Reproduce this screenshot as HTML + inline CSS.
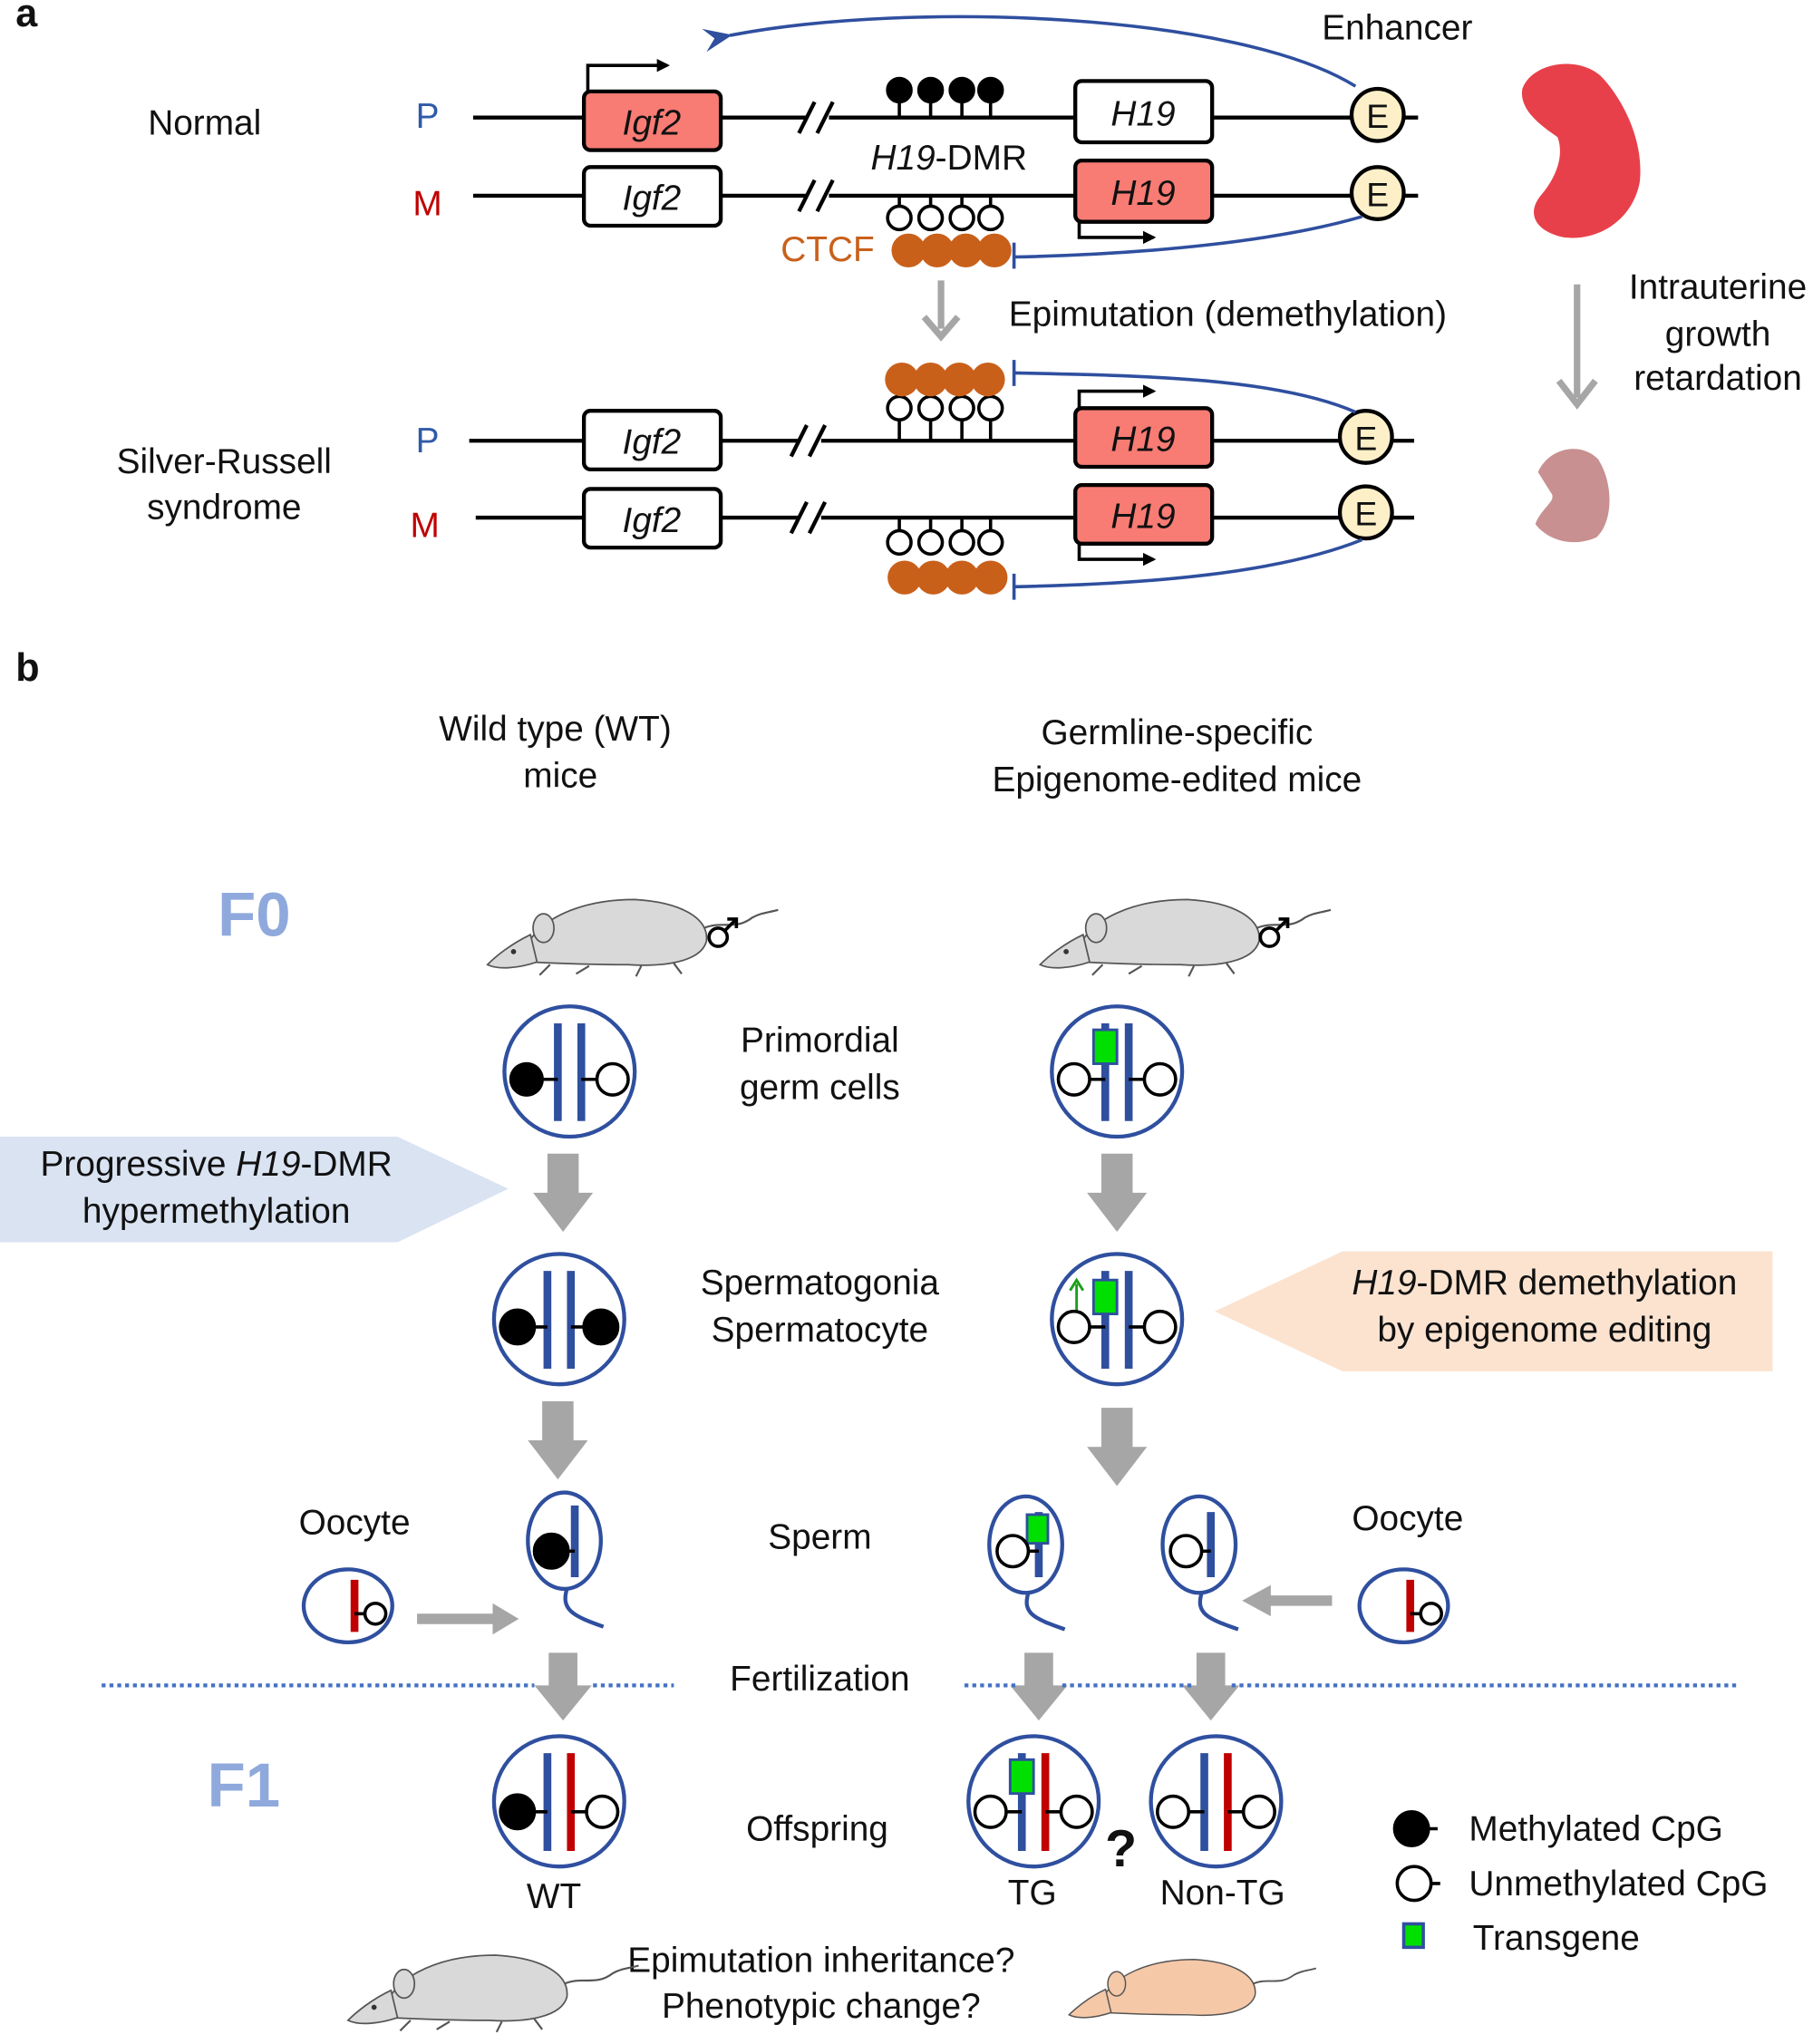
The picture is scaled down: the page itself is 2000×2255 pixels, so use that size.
<!DOCTYPE html>
<html><head><meta charset="utf-8"><style>
html,body{margin:0;padding:0;background:#fff}
svg{display:block}
text{font-family:"Liberation Sans",Arial,sans-serif;fill:#111}
</style></head><body>
<svg width="2000" height="2255" viewBox="0 0 1391 1568" xmlns="http://www.w3.org/2000/svg">
<defs>
<marker id="ab" markerWidth="10" markerHeight="10" refX="8" refY="5" orient="auto" markerUnits="userSpaceOnUse"><path d="M0,0 L10,5 L0,10 z" fill="#000"/></marker>
<marker id="abl" markerWidth="22" markerHeight="18" refX="2" refY="9" orient="auto" markerUnits="userSpaceOnUse"><path d="M22,0 L0,9 L22,18 L14,9 z" fill="#2f4f9f"/></marker>
<g id="mouse">
<path d="M-60,18 C-50,-8 -15,-22 25,-22 C60,-20 82,-8 80,10 C76,25 50,30 20,28 C-10,28 -35,27 -55,26 Z" fill="#d9d9d9" stroke="#555" stroke-width="1.2"/>
<path d="M-55,5 C-70,12 -82,22 -88,28 C-80,32 -65,31 -50,26 Z" fill="#d9d9d9" stroke="#555" stroke-width="1.2"/>
<ellipse cx="-45" cy="0" rx="8" ry="11" fill="#d9d9d9" stroke="#555" stroke-width="1.2"/>
<circle cx="-68" cy="18" r="2" fill="#333"/>
<path d="M78,0 C92,-6 102,2 115,-8 C122,-12 128,-12 135,-14" fill="none" stroke="#555" stroke-width="1.5"/>
<path d="M-40,28 l-8,8 M-10,29 l-10,6 M30,29 l-4,8 M55,27 l6,8" stroke="#555" stroke-width="1.5"/>
</g>
<g id="male" fill="none" stroke="#000" stroke-width="2.5">
<circle cx="-4" cy="4" r="7"/><path d="M1,-1 L10,-10 M3,-10 H10 V-3"/>
</g>
</defs>

<!-- Panel a -->
<text x="12" y="20" font-size="30" font-weight="bold">a</text>
<text x="1072" y="30" font-size="27" text-anchor="middle">Enhancer</text>
<path d="M1040,66 C950,10 700,0 560,27" fill="none" stroke="#2f4f9f" stroke-width="2.5" marker-end="url(#abl)"/>
<text x="157" y="103" font-size="27" text-anchor="middle">Normal</text>
<text x="328" y="98" font-size="27" text-anchor="middle" style="fill:#2f5aa8">P</text>
<text x="328" y="165" font-size="27" text-anchor="middle" style="fill:#c00000">M</text>

<g stroke="#000" stroke-width="3" fill="none">
<line x1="363" y1="90" x2="618" y2="90"/><line x1="636" y1="90" x2="1088" y2="90"/>
<line x1="363" y1="150" x2="618" y2="150"/><line x1="636" y1="150" x2="1088" y2="150"/>
<line x1="360" y1="338" x2="612" y2="338"/><line x1="630" y1="338" x2="1085" y2="338"/>
<line x1="365" y1="397" x2="612" y2="397"/><line x1="630" y1="397" x2="1085" y2="397"/>
<path d="M613,102 l12,-24 M627,102 l12,-24"/>
<path d="M613,162 l12,-24 M627,162 l12,-24"/>
<path d="M607,350 l12,-24 M621,350 l12,-24"/>
<path d="M607,409 l12,-24 M621,409 l12,-24"/>
</g>
<g stroke="#000" stroke-width="3">
<rect x="448" y="70" width="105" height="45" rx="5" fill="#f87c74"/>
<rect x="448" y="128" width="105" height="45" rx="5" fill="#fff"/>
<rect x="448" y="315" width="105" height="45" rx="5" fill="#fff"/>
<rect x="448" y="375" width="105" height="45" rx="5" fill="#fff"/>
<rect x="825" y="62" width="105" height="47" rx="5" fill="#fff"/>
<rect x="825" y="123" width="105" height="47" rx="5" fill="#f87c74"/>
<rect x="825" y="313" width="105" height="45" rx="5" fill="#f87c74"/>
<rect x="825" y="372" width="105" height="45" rx="5" fill="#f87c74"/>
</g>
<g font-size="27" font-style="italic" text-anchor="middle">
<text x="500" y="103">Igf2</text><text x="500" y="161">Igf2</text><text x="500" y="348">Igf2</text><text x="500" y="408">Igf2</text>
<text x="877" y="96">H19</text><text x="877" y="157">H19</text><text x="877" y="346">H19</text><text x="877" y="405">H19</text>
</g>
<g stroke="#000" stroke-width="2.5" fill="none">
<path d="M451,70 V50 H512" marker-end="url(#ab)"/>
<path d="M828,170 V182 H885" marker-end="url(#ab)"/>
<path d="M828,313 V300 H885" marker-end="url(#ab)"/>
<path d="M828,417 V429 H885" marker-end="url(#ab)"/>
</g>
<g stroke="#000" stroke-width="3" fill="#fdf0c8">
<circle cx="1057" cy="88" r="20"/><circle cx="1057" cy="148" r="20"/>
<circle cx="1048" cy="335" r="20"/><circle cx="1048" cy="393" r="20"/>
</g>
<g font-size="26" text-anchor="middle"><text x="1057" y="98">E</text><text x="1057" y="158">E</text><text x="1048" y="345">E</text><text x="1048" y="403">E</text></g>
<g stroke="#000" stroke-width="2.5">
<g fill="#000"><line x1="690" y1="70" x2="690" y2="90"/><line x1="714" y1="70" x2="714" y2="90"/><line x1="738" y1="70" x2="738" y2="90"/><line x1="760" y1="70" x2="760" y2="90"/>
<circle cx="690" cy="69" r="9"/><circle cx="714" cy="69" r="9"/><circle cx="738" cy="69" r="9"/><circle cx="760" cy="69" r="9"/></g>
<g fill="#fff">
<line x1="690" y1="150" x2="690" y2="166"/><line x1="714" y1="150" x2="714" y2="166"/><line x1="738" y1="150" x2="738" y2="166"/><line x1="760" y1="150" x2="760" y2="166"/>
<circle cx="690" cy="167" r="9"/><circle cx="714" cy="167" r="9"/><circle cx="738" cy="167" r="9"/><circle cx="760" cy="167" r="9"/>
<line x1="690" y1="318" x2="690" y2="338"/><line x1="714" y1="318" x2="714" y2="338"/><line x1="738" y1="318" x2="738" y2="338"/><line x1="760" y1="318" x2="760" y2="338"/>
<circle cx="690" cy="313" r="9"/><circle cx="714" cy="313" r="9"/><circle cx="738" cy="313" r="9"/><circle cx="760" cy="313" r="9"/>
<line x1="690" y1="397" x2="690" y2="413"/><line x1="714" y1="397" x2="714" y2="413"/><line x1="738" y1="397" x2="738" y2="413"/><line x1="760" y1="397" x2="760" y2="413"/>
<circle cx="690" cy="416" r="9"/><circle cx="714" cy="416" r="9"/><circle cx="738" cy="416" r="9"/><circle cx="760" cy="416" r="9"/>
</g></g>
<g fill="#c9601a">
<circle cx="697" cy="192" r="13"/><circle cx="719" cy="192" r="13"/><circle cx="741" cy="192" r="13"/><circle cx="763" cy="192" r="13"/>
<circle cx="692" cy="291" r="13"/><circle cx="714" cy="291" r="13"/><circle cx="736" cy="291" r="13"/><circle cx="758" cy="291" r="13"/>
<circle cx="694" cy="443" r="13"/><circle cx="716" cy="443" r="13"/><circle cx="738" cy="443" r="13"/><circle cx="760" cy="443" r="13"/>
</g>
<text x="728" y="130" font-size="27" text-anchor="middle"><tspan font-style="italic">H19</tspan>-DMR</text>
<text x="635" y="200" font-size="27" text-anchor="middle" style="fill:#c9601a">CTCF</text>
<g stroke="#2f4f9f" stroke-width="2.5" fill="none">
<path d="M1045,166 C980,185 880,195 778,197"/><line x1="778" y1="186" x2="778" y2="206"/>
<path d="M1040,316 C980,290 880,288 778,286"/><line x1="778" y1="276" x2="778" y2="296"/>
<path d="M1045,414 C980,440 880,448 778,450"/><line x1="778" y1="440" x2="778" y2="460"/>
</g>
<g stroke="#a6a6a6">
<line x1="722" y1="215" x2="722" y2="252" stroke-width="5"/><path d="M709,243 L722,258 L735,243" fill="none" stroke-width="5"/>
<line x1="1210" y1="218" x2="1210" y2="305" stroke-width="5"/><path d="M1196,292 L1210,310 L1224,292" fill="none" stroke-width="5"/>
</g>
<text x="942" y="250" font-size="27" text-anchor="middle">Epimutation (demethylation)</text>
<g font-size="27" text-anchor="middle"><text x="1318" y="229">Intrauterine</text><text x="1318" y="265">growth</text><text x="1318" y="299">retardation</text></g>
<text x="172" y="363" font-size="27" text-anchor="middle">Silver-Russell</text>
<text x="172" y="398" font-size="27" text-anchor="middle">syndrome</text>
<text x="328" y="347" font-size="27" text-anchor="middle" style="fill:#2f5aa8">P</text>
<text x="326" y="412" font-size="27" text-anchor="middle" style="fill:#c00000">M</text>
<path d="M1168,68 C1175,48 1210,42 1228,58 C1242,72 1262,105 1258,140 C1252,170 1225,185 1200,182 C1180,178 1170,165 1182,150 C1195,135 1200,118 1195,105 C1185,98 1165,85 1168,68 Z" fill="#e8404a"/>
<path d="M1180,362 C1188,344 1212,338 1226,352 C1238,370 1238,400 1225,412 C1208,420 1188,415 1178,402 C1182,390 1195,384 1190,378 Z" fill="#c89090"/>

<!-- Panel b -->
<text x="12" y="522" font-size="30" font-weight="bold">b</text>
<g font-size="27" text-anchor="middle">
<text x="426" y="568">Wild type (WT)</text><text x="430" y="604">mice</text>
<text x="903" y="571">Germline-specific</text><text x="903" y="607">Epigenome-edited mice</text>
<text x="629" y="807">Primordial</text><text x="629" y="843">germ cells</text>
<text x="629" y="993">Spermatogonia</text><text x="629" y="1029">Spermatocyte</text>
<text x="629" y="1188">Sperm</text>
<text x="272" y="1177">Oocyte</text><text x="1080" y="1174">Oocyte</text>
<text x="629" y="1297">Fertilization</text>
<text x="627" y="1412">Offspring</text>
<text x="425" y="1464">WT</text><text x="792" y="1461">TG</text><text x="938" y="1461">Non-TG</text>
<text x="630" y="1513">Epimutation inheritance?</text><text x="630" y="1548">Phenotypic change?</text>
</g>
<text x="860" y="1432" font-size="40" font-weight="bold" text-anchor="middle">?</text>
<text x="195" y="718" font-size="48" font-weight="bold" text-anchor="middle" style="fill:#8fa9dc">F0</text>
<text x="187" y="1386" font-size="48" font-weight="bold" text-anchor="middle" style="fill:#8fa9dc">F1</text>

<use href="#mouse" x="462" y="712"/>
<use href="#mouse" x="886" y="712"/>
<use href="#male" x="555" y="715"/>
<use href="#male" x="978" y="715"/>

<path d="M0,872 H305 L390,912 L305,953 H0 Z" fill="#d9e3f2"/>
<text x="166" y="902" font-size="27" text-anchor="middle">Progressive <tspan font-style="italic">H19</tspan>-DMR</text>
<text x="166" y="938" font-size="27" text-anchor="middle">hypermethylation</text>
<path d="M1360,960 H1030 L932,1006 L1030,1052 H1360 Z" fill="#fbe3d0"/>
<text x="1185" y="993" font-size="27" text-anchor="middle"><tspan font-style="italic">H19</tspan>-DMR demethylation</text>
<text x="1185" y="1029" font-size="27" text-anchor="middle">by epigenome editing</text>

<g stroke="#2f4f9f" stroke-width="3" fill="none">
<circle cx="437" cy="822" r="50"/><circle cx="857" cy="822" r="50"/>
<circle cx="429" cy="1012" r="50"/><circle cx="857" cy="1012" r="50"/>
<circle cx="429" cy="1382" r="50"/><circle cx="793" cy="1382" r="50"/><circle cx="933" cy="1382" r="50"/>
<ellipse cx="433" cy="1182" rx="28" ry="37"/><path d="M435,1219 C430,1235 440,1240 463,1248"/>
<ellipse cx="787" cy="1185" rx="28" ry="37"/><path d="M789,1222 C784,1238 794,1242 817,1250"/>
<ellipse cx="920" cy="1185" rx="28" ry="37"/><path d="M922,1222 C917,1238 927,1242 950,1250"/>
<ellipse cx="267" cy="1232" rx="34" ry="28"/><ellipse cx="1077" cy="1232" rx="34" ry="28"/>
</g>
<g stroke="#2f4f9f" stroke-width="6">
<line x1="428" y1="785" x2="428" y2="860"/><line x1="446" y1="785" x2="446" y2="860"/>
<line x1="848" y1="785" x2="848" y2="860"/><line x1="866" y1="785" x2="866" y2="860"/>
<line x1="420" y1="975" x2="420" y2="1050"/><line x1="438" y1="975" x2="438" y2="1050"/>
<line x1="848" y1="975" x2="848" y2="1050"/><line x1="866" y1="975" x2="866" y2="1050"/>
<line x1="441" y1="1155" x2="441" y2="1210"/>
<line x1="797" y1="1160" x2="797" y2="1210"/><line x1="929" y1="1160" x2="929" y2="1210"/>
<line x1="420" y1="1345" x2="420" y2="1420"/><line x1="784" y1="1345" x2="784" y2="1420"/><line x1="924" y1="1345" x2="924" y2="1420"/>
</g>
<g stroke="#c00000" stroke-width="6">
<line x1="438" y1="1345" x2="438" y2="1420"/><line x1="802" y1="1345" x2="802" y2="1420"/><line x1="942" y1="1345" x2="942" y2="1420"/>
<line x1="272" y1="1212" x2="272" y2="1252"/><line x1="1082" y1="1212" x2="1082" y2="1252"/>
</g>
<g fill="#00e000" stroke="#2f4f9f" stroke-width="2">
<rect x="839" y="790" width="18" height="26"/><rect x="839" y="982" width="18" height="26"/>
<rect x="788" y="1162" width="16" height="22"/><rect x="775" y="1350" width="18" height="26"/>
</g>
<path d="M826,1010 V985" stroke="#1aa01a" stroke-width="2" fill="none"/><path d="M821,990 L826,982 L831,990" stroke="#1aa01a" stroke-width="2" fill="none"/>
<g stroke="#000" stroke-width="2.5">
<g fill="#000">
<line x1="404" y1="828" x2="428" y2="828"/><circle cx="404" cy="828" r="12"/>
<line x1="397" y1="1018" x2="420" y2="1018"/><circle cx="397" cy="1018" r="13"/>
<line x1="438" y1="1018" x2="461" y2="1018"/><circle cx="461" cy="1018" r="13"/>
<line x1="423" y1="1190" x2="441" y2="1190"/><circle cx="423" cy="1190" r="13"/>
<line x1="397" y1="1390" x2="420" y2="1390"/><circle cx="397" cy="1390" r="13"/>
<line x1="1083" y1="1403" x2="1103" y2="1403"/><circle cx="1083" cy="1403" r="13"/>
</g>
<g fill="#fff">
<line x1="446" y1="828" x2="470" y2="828"/><circle cx="470" cy="828" r="12"/>
<line x1="824" y1="828" x2="848" y2="828"/><circle cx="824" cy="828" r="12"/>
<line x1="866" y1="828" x2="890" y2="828"/><circle cx="890" cy="828" r="12"/>
<line x1="824" y1="1018" x2="848" y2="1018"/><circle cx="824" cy="1018" r="12"/>
<line x1="866" y1="1018" x2="890" y2="1018"/><circle cx="890" cy="1018" r="12"/>
<line x1="777" y1="1190" x2="797" y2="1190"/><circle cx="777" cy="1190" r="12"/>
<line x1="910" y1="1190" x2="929" y2="1190"/><circle cx="910" cy="1190" r="12"/>
<line x1="272" y1="1238" x2="288" y2="1238"/><circle cx="288" cy="1238" r="8"/>
<line x1="1082" y1="1238" x2="1098" y2="1238"/><circle cx="1098" cy="1238" r="8"/>
<line x1="438" y1="1390" x2="462" y2="1390"/><circle cx="462" cy="1390" r="12"/>
<line x1="760" y1="1390" x2="784" y2="1390"/><circle cx="760" cy="1390" r="12"/>
<line x1="802" y1="1390" x2="826" y2="1390"/><circle cx="826" cy="1390" r="12"/>
<line x1="900" y1="1390" x2="924" y2="1390"/><circle cx="900" cy="1390" r="12"/>
<line x1="942" y1="1390" x2="966" y2="1390"/><circle cx="966" cy="1390" r="12"/>
<line x1="1085" y1="1445" x2="1105" y2="1445"/><circle cx="1085" cy="1445" r="13"/>
</g></g>
<rect x="1077" y="1476" width="15" height="18" fill="#00e000" stroke="#2f4f9f" stroke-width="2.5"/>
<g font-size="27"><text x="1127" y="1412">Methylated CpG</text><text x="1127" y="1454">Unmethylated CpG</text><text x="1130" y="1496">Transgene</text></g>

<g fill="#a6a6a6">
<path d="M420,885 H444 V915 H455 L432,945 L409,915 H420 Z"/>
<path d="M845,885 H869 V915 H880 L857,945 L834,915 H845 Z"/>
<path d="M416,1075 H440 V1105 H451 L428,1135 L405,1105 H416 Z"/>
<path d="M845,1080 H869 V1110 H880 L857,1140 L834,1110 H845 Z"/>
<path d="M421,1268 H443 V1293 H454 L432,1320 L410,1293 H421 Z"/>
<path d="M786,1268 H808 V1293 H819 L797,1320 L775,1293 H786 Z"/>
<path d="M918,1268 H940 V1293 H951 L929,1320 L907,1293 H918 Z"/>
<path d="M320,1238 H378 V1230 L398,1242 L378,1254 V1246 H320 Z"/>
<path d="M1022,1224 H975 V1216 L953,1228 L975,1240 V1232 H1022 Z"/>
</g>
<g stroke="#4472c4" stroke-width="3" stroke-dasharray="3,3">
<line x1="78" y1="1293" x2="410" y2="1293"/><line x1="455" y1="1293" x2="517" y2="1293"/>
<line x1="740" y1="1293" x2="780" y2="1293"/><line x1="815" y1="1293" x2="915" y2="1293"/><line x1="945" y1="1293" x2="1332" y2="1293"/>
</g>
<use href="#mouse" x="355" y="1522"/>
<g transform="translate(895,1522) scale(0.85)">
<path d="M-60,18 C-50,-8 -15,-22 25,-22 C60,-20 82,-8 80,10 C76,25 50,30 20,28 C-10,28 -35,27 -55,26 Z" fill="#f5c8a8" stroke="#555" stroke-width="1.2"/>
<path d="M-55,5 C-70,12 -82,22 -88,28 C-80,32 -65,31 -50,26 Z" fill="#f5c8a8" stroke="#555" stroke-width="1.2"/>
<ellipse cx="-45" cy="0" rx="8" ry="11" fill="#f5c8a8" stroke="#555" stroke-width="1.2"/>
<path d="M78,0 C92,-6 102,2 115,-8 C122,-12 128,-12 135,-14" fill="none" stroke="#555" stroke-width="1.5"/>
</g>
</svg>
</body></html>
